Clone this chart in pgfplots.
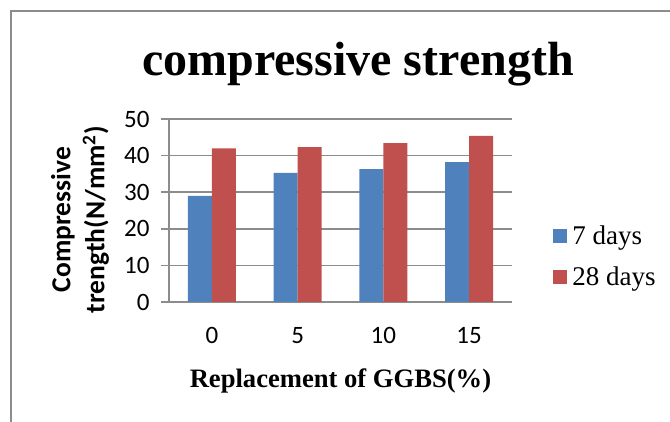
\documentclass[border=0pt]{standalone}
\usepackage{pgfplots}
\pgfplotsset{compat=1.18}
\usepackage{fontspec}
\setmainfont{Liberation Serif}
\newfontfamily\calibri{Carlito}

\definecolor{barblue}{HTML}{4F81BD}
\definecolor{barred}{HTML}{C0504D}
\definecolor{gridgray}{HTML}{8C8C8C}

\begin{document}
\begin{tikzpicture}[x=1pt,y=1pt]
  \useasboundingbox (0,0) rectangle (670,422);
  % chart area border (top and left edges)
  \draw[gridgray, line width=2pt] (11,-10) -- (11,411) -- (690,411);
  % title
  \node[anchor=base, font=\bfseries\fontsize{48}{56}\selectfont] at (358,346) {compressive strength};
  \begin{axis}[
    at={(169pt,120pt)}, anchor=south west,
    scale only axis, width=343pt, height=183pt,
    ybar=0pt, bar width=24pt,
    xmin=-0.5, xmax=3.5,
    ymin=0, ymax=50, ytick={0,10,...,50},
    xtick=data, xticklabels={0,5,10,15},
    axis x line=bottom, axis y line=left,
    axis line style={-, gridgray, line width=1.5pt},
    x axis line style={draw=none},
    ymajorgrids, grid style={gridgray, line width=1.5pt},
    major tick length=8pt, tick align=outside,
    ytick style={gridgray, line width=1.5pt},
    xtick style={draw=none},
    tick label style={font=\calibri\fontsize{25}{30}\selectfont},
    /pgf/number format/assume math mode=true,
    xticklabel style={yshift=-14pt},
    yticklabel style={xshift=-8pt},
    xlabel={\bfseries Replacement of GGBS(\%)},
    xlabel style={font=\fontsize{26.6}{32}\selectfont, at={(axis description cs:0.5,0)}, anchor=base, yshift=-86pt},
    ylabel={Compressive\\trength(N/mm\textsuperscript{2})},
    ylabel style={font=\calibri\bfseries\fontsize{27.5}{34}\selectfont, align=center,
      at={(axis description cs:-0.2595,0.45)}, anchor=center, rotate=0},
    legend style={at={(axis description cs:1.12,0.249)}, anchor=west, draw=none, fill=none,
      font=\fontsize{27}{32}\selectfont, row sep=17pt, inner sep=0pt,
      /tikz/every odd column/.append style={column sep=3pt},
      /tikz/every even column/.append style={column sep=0pt}},
    legend cell align=left,
    legend image code/.code={\fill[#1] (0pt,-7pt) rectangle (14pt,7pt);},
  ]
    \addplot[fill=barblue, draw=none] coordinates {(0,29.0) (1,35.3) (2,36.3) (3,38.2)};
    \addplot[fill=barred, draw=none] coordinates {(0,42.0) (1,42.3) (2,43.4) (3,45.4)};
    \legend{7 days, 28 days}
  \end{axis}
\end{tikzpicture}
\end{document}
